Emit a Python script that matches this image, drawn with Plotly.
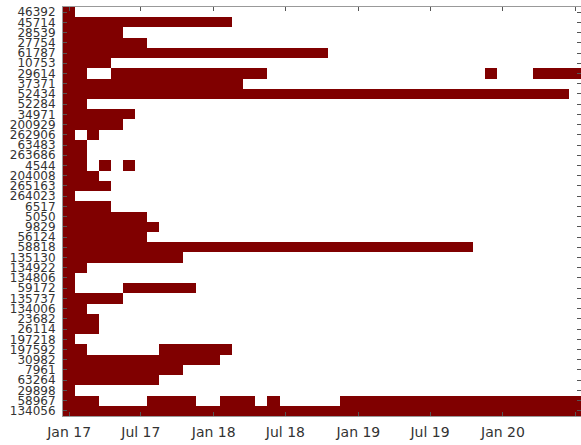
import plotly.graph_objects as go

# Row identifiers, top to bottom
ids = ["46392", "45714", "28539", "27754", "61787", "10753", "29614", "37371",
       "52434", "52284", "34971", "200929", "262906", "63483", "263686", "4544",
       "204008", "265163", "264023", "6517", "5050", "9829", "56124", "58818",
       "135130", "134922", "134806", "59172", "135737", "134006", "23682", "26114",
       "197218", "197592", "30982", "7961", "63264", "29898", "58967", "134056"]

# Monthly columns Jan 2017 .. Jul 2020
months = [f"{2017 + (m // 12)}-{(m % 12) + 1:02d}-01" for m in range(43)]

# Active periods per row (first month, last month), inclusive
active = {
    "46392": [("2017-01", "2017-01")],
    "45714": [("2017-01", "2018-02")],
    "28539": [("2017-01", "2017-05")],
    "27754": [("2017-01", "2017-07")],
    "61787": [("2017-01", "2018-10")],
    "10753": [("2017-01", "2017-04")],
    "29614": [("2017-01", "2017-02"), ("2017-05", "2018-05"), ("2019-12", "2019-12"), ("2020-04", "2020-07")],
    "37371": [("2017-01", "2018-03")],
    "52434": [("2017-01", "2020-06")],
    "52284": [("2017-01", "2017-02")],
    "34971": [("2017-01", "2017-06")],
    "200929": [("2017-01", "2017-05")],
    "262906": [("2017-01", "2017-01"), ("2017-03", "2017-03")],
    "63483": [("2017-01", "2017-02")],
    "263686": [("2017-01", "2017-02")],
    "4544": [("2017-01", "2017-02"), ("2017-04", "2017-04"), ("2017-06", "2017-06")],
    "204008": [("2017-01", "2017-03")],
    "265163": [("2017-01", "2017-04")],
    "264023": [("2017-01", "2017-01")],
    "6517": [("2017-01", "2017-04")],
    "5050": [("2017-01", "2017-07")],
    "9829": [("2017-01", "2017-08")],
    "56124": [("2017-01", "2017-07")],
    "58818": [("2017-01", "2019-10")],
    "135130": [("2017-01", "2017-10")],
    "134922": [("2017-01", "2017-02")],
    "134806": [("2017-01", "2017-01")],
    "59172": [("2017-01", "2017-01"), ("2017-06", "2017-11")],
    "135737": [("2017-01", "2017-05")],
    "134006": [("2017-01", "2017-02")],
    "23682": [("2017-01", "2017-03")],
    "26114": [("2017-01", "2017-03")],
    "197218": [("2017-01", "2017-01")],
    "197592": [("2017-01", "2017-02"), ("2017-09", "2018-02")],
    "30982": [("2017-01", "2018-01")],
    "7961": [("2017-01", "2017-10")],
    "63264": [("2017-01", "2017-08")],
    "29898": [("2017-01", "2017-01")],
    "58967": [("2017-01", "2017-03"), ("2017-08", "2017-11"), ("2018-02", "2018-04"), ("2018-06", "2018-06"), ("2018-12", "2020-07")],
    "134056": [("2017-01", "2020-07")],
}

z = []
for rid in ids:
    row = []
    for m in months:
        key = m[:7]
        on = any(a <= key <= b for a, b in active[rid])
        row.append(1 if on else None)
    z.append(row)

fig = go.Figure(go.Heatmap(
    x=months, y=ids, z=z,
    colorscale=[[0, "#800000"], [1, "#800000"]],
    zmin=0, zmax=1, showscale=False, hoverongaps=False,
))

fig.update_layout(
    width=581, height=445,
    margin=dict(l=63, r=0, t=7, b=29),
    plot_bgcolor="white", paper_bgcolor="white",
    font=dict(family="DejaVu Sans", color="#333333"),
)
fig.update_xaxes(
    type="date", tickformat="%b %y", dtick="M6", tick0="2017-01-01",
    ticks="inside", ticklen=4, tickcolor="#555555",
    showline=True, linecolor="#999999", linewidth=1, mirror="ticks",
    showgrid=False, zeroline=False, tickfont=dict(size=14),
    ticklabelstandoff=3, automargin=False,
)
fig.update_yaxes(
    type="category", autorange="reversed",
    tickmode="array", tickvals=ids, ticktext=ids,
    ticks="inside", ticklen=4, tickcolor="#555555",
    showline=True, linecolor="#999999", linewidth=1, mirror="ticks",
    showgrid=False, zeroline=False, tickfont=dict(size=12),
    ticklabelstandoff=4, automargin=False,
)

fig.write_html(
    "out.html",
    config={"displayModeBar": False},
    post_script="document.body.style.margin='0';document.body.style.overflow='hidden';",
)
